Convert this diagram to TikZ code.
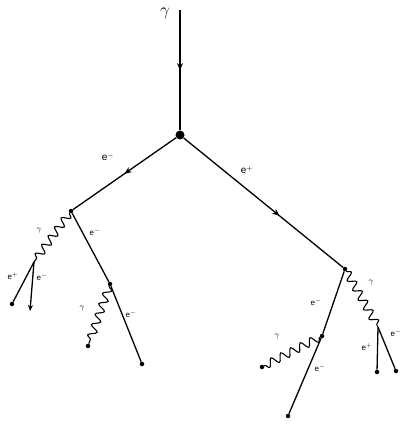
\documentclass[tikz,border=0pt]{standalone}
\usepackage{fontspec}
\setmainfont{Liberation Sans}
\usepackage{tikz}
\usetikzlibrary{arrows.meta, decorations.pathmorphing, decorations.markings}

\begin{document}
\begin{tikzpicture}[x=1pt, y=-1pt,
        vtx/.style={circle, fill, inner sep=0pt, minimum size=4.5pt},
        bigvtx/.style={circle, fill, inner sep=0pt, minimum size=9pt},
        fermion/.style={line width=1.3pt},
        photon/.style={line width=1.1pt, decorate,
                       decoration={snake, amplitude=4pt, segment length=11pt}},
        midarr/.style={postaction={decorate, decoration={markings,
                       mark=at position #1 with {\arrow{Stealth[length=7pt, width=6pt]}}}}},
        lbl/.style={font=\normalsize, inner sep=1pt},
        slbl/.style={font=\footnotesize, inner sep=1pt}
    ]
        \useasboundingbox (0,0) rectangle (400,428);
        % primary photon and first pair
        \coordinate (top) at (180,10);
        \node[bigvtx] (main) at (180,135) {};
        \node[vtx] (vl) at (71,211) {};
        \node[vtx] (vr) at (345,269) {};
        \draw[fermion, midarr=0.5] (top) -- (main);
        \draw[fermion, midarr=0.5] (main) -- (vl);
        \draw[fermion, midarr=0.6] (main) -- (vr);
        \node[font=\LARGE] (gtop) at (165,13) {$\gamma$};
        \node[lbl] (em1) at (108,157) {e$^{-}$};
        \node[lbl] (ep1) at (247,170) {e$^{+}$};
        % left branch
        \coordinate (lsplit) at (34,262);
        \node[vtx] (lpa) at (12,304) {};
        \coordinate (lpb) at (30,311);
        \node[vtx] (lm) at (110,284) {};
        \node[vtx] (lend) at (142,364) {};
        \node[vtx] (lg) at (88,346) {};
        \draw[photon] (vl) -- (lsplit);
        \draw[fermion] (lsplit) -- (lpa);
        \draw[fermion, -{Stealth[length=6pt, width=5pt]}] (lsplit) -- (lpb);
        \draw[fermion] (vl) -- (lm) -- (lend);
        \draw[photon] (lm) -- (lg);
        \node[slbl] (lgl) at (39,231) {$\gamma$};
        \node[slbl] (lepl) at (13,276) {e$^{+}$};
        \node[slbl] (leml) at (42,277) {e$^{-}$};
        \node[slbl] (lem2) at (95,232) {e$^{-}$};
        \node[slbl] (lg2) at (82,309) {$\gamma$};
        \node[slbl] (lem3) at (131,314) {e$^{-}$};
        % right branch
        \coordinate (rsplit) at (378,327);
        \node[vtx] (rpa) at (377,372) {};
        \node[vtx] (rpb) at (396,371) {};
        \node[vtx] (rm) at (322,336) {};
        \node[vtx] (rend) at (288,416) {};
        \node[vtx] (rg) at (262,367) {};
        \draw[photon] (vr) -- (rsplit);
        \draw[fermion] (rsplit) -- (rpa);
        \draw[fermion] (rsplit) -- (rpb);
        \draw[fermion] (vr) -- (rm) -- (rend);
        \draw[photon] (rm) -- (rg);
        \node[slbl] (rgl) at (371,283) {$\gamma$};
        \node[slbl] (rem1) at (316,302) {e$^{-}$};
        \node[slbl] (rem2) at (320,368) {e$^{-}$};
        \node[slbl] (rg2) at (277,337) {$\gamma$};
        \node[slbl] (repl) at (367,347) {e$^{+}$};
        \node[slbl] (reml) at (396,333) {e$^{-}$};
    \end{tikzpicture}
\end{document}
